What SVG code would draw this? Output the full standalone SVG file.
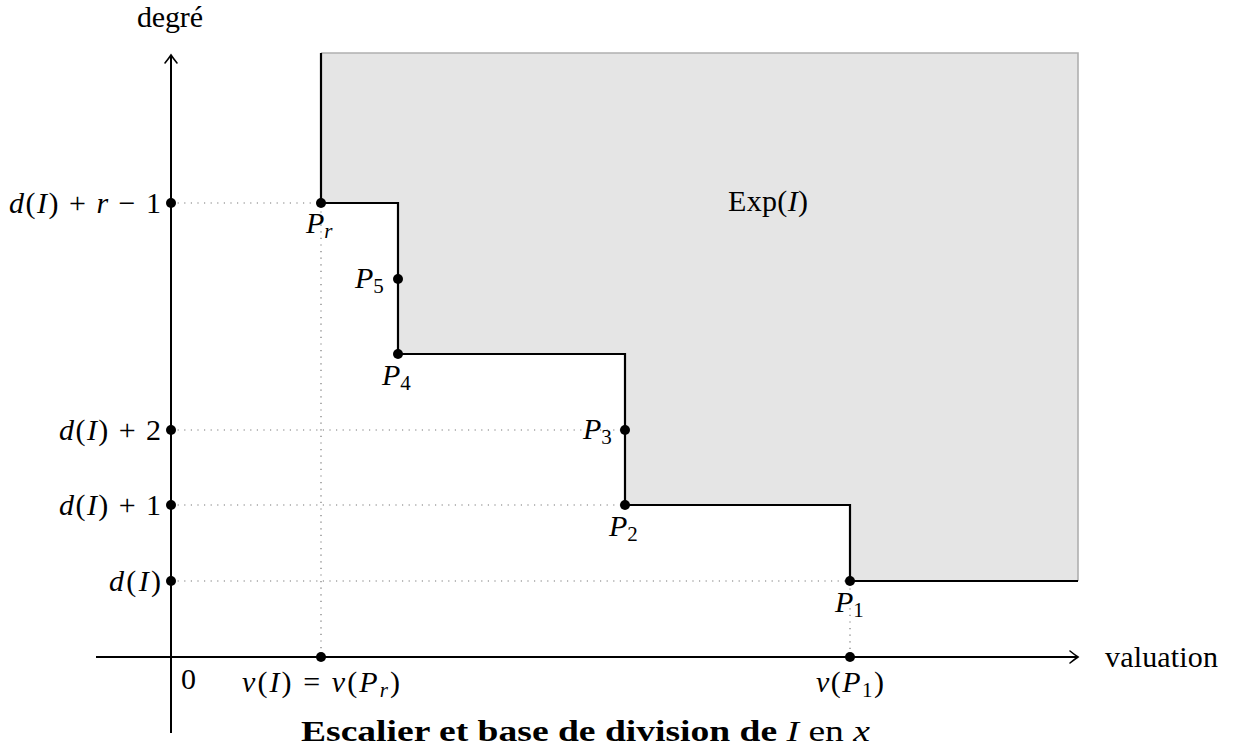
<svg xmlns="http://www.w3.org/2000/svg" width="1243" height="753" viewBox="0 0 1243 753">
<style>
text{font-family:"Liberation Serif","Times New Roman",serif;font-size:30px;fill:#000}
.i{font-style:italic}
.sub{font-size:21px}
.ax{stroke:#000;stroke-width:2;fill:none}
.arr{stroke:#000;stroke-width:1.6;fill:none;stroke-linecap:round}
.dot{fill:#000}
.dt{stroke:#777;stroke-width:1.2;stroke-dasharray:1.2 5.4;fill:none}
.stair{stroke:#000;stroke-width:2.2;fill:none;stroke-linejoin:miter}
</style>
<rect width="1243" height="753" fill="#fff"/>
<g id="region">
<polygon points="321,53 1078,53 1078,581 850,581 850,505 625,505 625,354 398,354 398,203 321,203" fill="#e5e5e5" stroke="none"/>
<polyline points="321,53 1078,53 1078,581" fill="none" stroke="#b0b0b0" stroke-width="1.6"/>
<text x="728" y="211" textLength="80" lengthAdjust="spacing">Exp(<tspan class="i">I</tspan>)</text>
</g>
<g id="connectors">
<path class="dt" d="M171,203 H321 V657"/>
<path class="dt" d="M171,430 H625"/>
<path class="dt" d="M171,505 H625"/>
<path class="dt" d="M171,581 H850 V657"/>
<path class="stair" d="M321,53 V203 H398 V354 H625 V505 H850 V581 H1078"/>
</g>
<g id="axes">
<path class="ax" d="M171,733 V55"/>
<path class="arr" d="M165,63 Q169,58 171,55 Q173,58 177,63"/>
<path class="ax" d="M96,657 H1077"/>
<path class="arr" d="M1070,651 Q1075,655 1078,657 Q1075,659 1070,663"/>
<text x="137" y="27" font-size="29" textLength="66" lengthAdjust="spacing">degré</text>
<text x="1105" y="667" textLength="113" lengthAdjust="spacing">valuation</text>
<text x="181" y="689">0</text>
</g>
<g id="ticks">
<circle class="dot" cx="171" cy="203" r="5"/>
<circle class="dot" cx="171" cy="430" r="5"/>
<circle class="dot" cx="171" cy="505" r="5"/>
<circle class="dot" cx="171" cy="581" r="5"/>
<circle class="dot" cx="321" cy="657" r="5"/>
<circle class="dot" cx="850" cy="657" r="5"/>
<text x="161" y="213" text-anchor="end" textLength="152" lengthAdjust="spacing"><tspan class="i">d</tspan>(<tspan class="i">I</tspan>) + <tspan class="i">r</tspan> − 1</text>
<text x="161" y="440" text-anchor="end" textLength="102" lengthAdjust="spacing"><tspan class="i">d</tspan>(<tspan class="i">I</tspan>) + 2</text>
<text x="161" y="515" text-anchor="end" textLength="102" lengthAdjust="spacing"><tspan class="i">d</tspan>(<tspan class="i">I</tspan>) + 1</text>
<text x="161" y="591" text-anchor="end" textLength="52" lengthAdjust="spacing"><tspan class="i">d</tspan>(<tspan class="i">I</tspan>)</text>
<text x="242" y="692" textLength="158" lengthAdjust="spacing"><tspan class="i">v</tspan>(<tspan class="i">I</tspan>) = <tspan class="i">v</tspan>(<tspan class="i">P</tspan><tspan class="i sub" dy="5">r</tspan><tspan dy="-5">)</tspan></text>
<text x="816" y="692" textLength="68" lengthAdjust="spacing"><tspan class="i">v</tspan>(<tspan class="i">P</tspan><tspan class="sub" dy="5">1</tspan><tspan dy="-5">)</tspan></text>
</g>
<g id="Pr"><circle class="dot" cx="321" cy="203" r="5"/><text x="306" y="233"><tspan class="i">P</tspan><tspan class="i sub" dy="5">r</tspan></text></g>
<g id="P5"><circle class="dot" cx="398" cy="279" r="5"/><text x="355" y="288"><tspan class="i">P</tspan><tspan class="sub" dy="5">5</tspan></text></g>
<g id="P4"><circle class="dot" cx="398" cy="354" r="5"/><text x="382" y="385"><tspan class="i">P</tspan><tspan class="sub" dy="5">4</tspan></text></g>
<g id="P3"><circle class="dot" cx="625" cy="430" r="5"/><text x="583" y="439"><tspan class="i">P</tspan><tspan class="sub" dy="5">3</tspan></text></g>
<g id="P2"><circle class="dot" cx="625" cy="505" r="5"/><text x="609" y="536"><tspan class="i">P</tspan><tspan class="sub" dy="5">2</tspan></text></g>
<g id="P1"><circle class="dot" cx="850" cy="581" r="5"/><text x="835" y="612"><tspan class="i">P</tspan><tspan class="sub" dy="5">1</tspan></text></g>
<g id="caption">
<text x="301" y="741" font-size="29" textLength="569" lengthAdjust="spacingAndGlyphs"><tspan font-weight="bold">Escalier et base de division de </tspan><tspan class="i">I</tspan> en <tspan class="i">x</tspan></text>
</g>
</svg>
